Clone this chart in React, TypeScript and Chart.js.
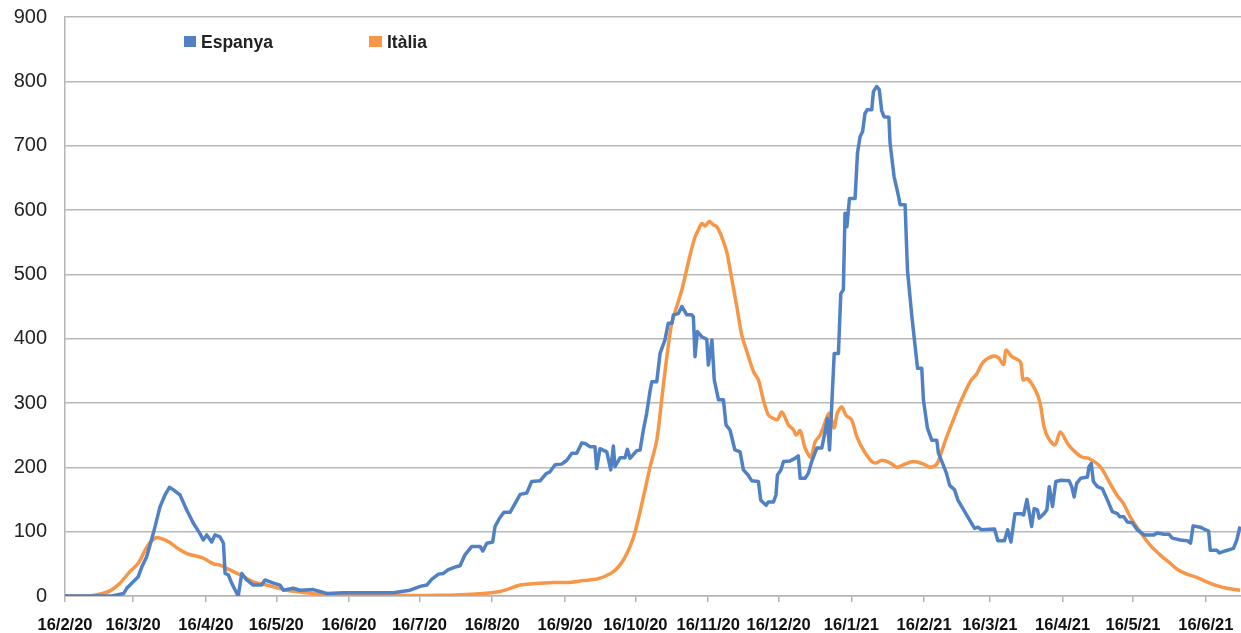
import React, { useEffect, useRef } from "react";
import { Chart, registerables } from "chart.js";

Chart.register(...registerables);

// Day index counted from 16/2/20
const tickDays = [0, 29, 60, 90, 121, 151, 182, 213, 243, 274, 304, 335, 366, 394, 425, 455, 486];
const tickLabels = [
  "16/2/20", "16/3/20", "16/4/20", "16/5/20", "16/6/20", "16/7/20", "16/8/20", "16/9/20",
  "16/10/20", "16/11/20", "16/12/20", "16/1/21", "16/2/21", "16/3/21", "16/4/21", "16/5/21", "16/6/21",
];

const seriesNames = ["Espanya", "Itàlia"];

const spainDays = [
  0, 20, 25, 26.3, 31.2, 32.7, 34.8, 37.6, 40.5, 42.6, 44.5, 46.2, 49, 51.8, 54.7, 57.5, 58.9, 60.4, 62.5, 63.9,
  66, 67.5, 68.2, 69.6, 71, 73.8, 75.3, 77.4, 80.2, 83.8, 85.2, 88.8, 91.6, 93, 97.3, 100, 105.8, 108.6, 111.5, 118.6,
  125.7, 139.9, 147, 151.3, 154.1, 156.2, 159.1, 161.2, 163.3, 166.2, 168.3, 170.4, 173.3, 176.8, 178, 179.7, 182.2, 183.2, 185.3, 187,
  189.6, 191.3, 193.9, 196.7, 198.8, 202.4, 204.9, 206.6, 208.8, 211.6, 213.8, 215.9, 218, 220.2, 221.6, 223.7, 225.8, 226.5, 227.9, 230.8,
  232.5, 233.6, 234.3, 236.5, 238.6, 239.6, 240.7, 243.6, 245, 246.4, 247.8, 249.3, 250, 252.1, 253.5, 255.6, 257, 258.6, 259.2, 261.3,
  262.8, 264.9, 267, 267.7, 268.4, 269.4, 271.3, 273.4, 274.1, 275.6, 276.6, 278.4, 280.5, 281.6, 283.3, 285.4, 287.6, 289, 291, 292.6,
  295.4, 296.4, 298.7, 299.6, 301.8, 302.9, 303.5, 305, 306.1, 308.9, 311, 312.4, 313.2, 315.3, 316.7, 318.1, 320.3, 322.4, 323.8, 324.8,
  325.7, 326.7, 327.7, 329.5, 330.5, 331.6, 332.3, 333.1, 334.2, 336.6, 337.6, 338.7, 339.8, 340.8, 341.8, 343.7, 344.4, 345.8, 346.9, 347.9,
  348.9, 351, 351.5, 353.2, 355, 355.8, 357.9, 358.9, 360.8, 363.2, 365, 365.7, 367.4, 369.3, 371.4, 372.1, 374, 375.5, 376.9, 379,
  380.4, 387.5, 388.9, 390.3, 396, 397.4, 400.2, 401.6, 403, 404.7, 407.2, 408.4, 409.8, 411.8, 412.9, 414.3, 415, 417.1, 418.3, 419.3,
  420.7, 422.1, 424.3, 427.8, 428.9, 429.9, 431, 432.7, 435.6, 436.2, 437.2, 438.1, 439.8, 441.9, 444.1, 446.2, 448.3, 449.4, 451.1, 452.6,
  454.7, 456.8, 459.7, 463.9, 465.3, 468.2, 470.3, 471.7, 475.2, 478.1, 479.5, 480.6, 483.7, 485.8, 487.2, 487.9, 490.7, 491.8, 494.2, 497.8,
  499.2, 500.6,
];
const spainValues = [
  0, 0, 4, 12, 30, 45, 61, 97, 139, 157, 169, 165, 157, 134, 113, 97, 87, 95, 84, 95,
  92, 82, 35, 33, 20, 0, 35, 25, 17, 17, 25, 20, 17, 9, 12, 9, 10, 7, 4, 5,
  5, 5, 9, 15, 17, 26, 34, 35, 41, 45, 47, 64, 77, 77, 70, 82, 84, 108, 122, 130,
  130, 141, 158, 160, 178, 179, 190, 193, 204, 205, 211, 222, 222, 238, 237, 232, 232, 198, 229, 224,
  196, 233, 201, 215, 215, 228, 214, 226, 227, 258, 284, 320, 333, 333, 377, 398, 424, 424, 437, 439,
  450, 437, 437, 434, 372, 411, 403, 399, 359, 398, 336, 305, 305, 266, 258, 227, 224, 196, 188, 179,
  178, 149, 141, 146, 146, 157, 188, 196, 209, 210, 214, 218, 183, 183, 191, 209, 230, 230, 255, 276,
  227, 300, 377, 377, 470, 476, 595, 574, 618, 618, 688, 714, 722, 750, 756, 756, 784, 792, 787, 755,
  745, 744, 704, 652, 623, 608, 608, 507, 434, 354, 354, 305, 261, 242, 242, 222, 205, 191, 172, 165,
  149, 105, 107, 103, 104, 86, 86, 103, 84, 128, 128, 126, 150, 108, 136, 134, 121, 128, 134, 170,
  139, 178, 180, 179, 170, 154, 175, 183, 185, 201, 206, 178, 170, 167, 149, 131, 128, 123, 123, 115,
  114, 103, 95, 95, 98, 96, 96, 90, 87, 86, 82, 109, 107, 103, 101, 71, 71, 67, 70, 74,
  87, 108,
];

const italyDays = [
  0, 10.6, 14.9, 19.2, 23.4, 27.7, 31.2, 34.1, 36.2, 39.1, 41.9, 44.7, 47.6, 51.9, 54.7, 58.9, 63.2, 66, 68.9, 74.6,
  80.2, 85.9, 94.5, 103, 111.5, 121.4, 140, 160, 178.2, 185.3, 188.2, 193.9, 199.5, 208, 213.8, 220.8, 227.2, 233.6, 237.9, 241.5,
  243.6, 246.4, 249.3, 252.1, 254.2, 256.4, 258.5, 260.6, 262.8, 266.3, 268.4, 269.8, 271.3, 272.7, 274.5, 276.2, 277.7, 279.8, 281.9, 284,
  286.2, 288.3, 290.5, 293.3, 295.4, 297.5, 299.7, 301.8, 303.5, 305.4, 308.2, 310.4, 311.5, 313.2, 315.3, 317.7, 319.6, 321.7, 323.1, 325.6,
  327.6, 329, 330.9, 332.7, 335.1, 337.3, 340.1, 343.7, 345.8, 348, 351.5, 354.4, 357.2, 361.5, 365.8, 368.6, 371.4, 373.5, 375.7, 378.5,
  381.3, 385.6, 388.5, 391.3, 395.6, 397.7, 399.9, 400.9, 403.4, 407, 408.2, 410.1, 413.4, 415.4, 417.1, 419, 421.8, 424, 427.5, 430.3,
  433.2, 436, 441, 445.2, 448.1, 450.9, 453.8, 458, 462.3, 466.5, 470.8, 473.6, 477.9, 482.2, 486.4, 490.7, 495, 500.6,
];
const italyValues = [
  0, 0, 3, 8, 20, 38, 51, 71, 83, 91, 88, 83, 75, 66, 63, 59, 50, 48, 43, 33,
  22, 17, 9, 5, 2, 1, 1, 1, 4, 7, 10, 17, 19, 21, 21, 24, 27, 38, 56, 84,
  110, 154, 201, 242, 305, 372, 424, 450, 476, 530, 558, 569, 579, 575, 582, 577, 574, 558, 535, 494,
  450, 406, 380, 349, 336, 305, 281, 276, 274, 286, 266, 258, 250, 257, 230, 216, 240, 250, 263, 284,
  261, 284, 294, 281, 274, 248, 227, 209, 207, 211, 207, 200, 204, 209, 205, 200, 205, 225, 248, 274,
  300, 333, 346, 364, 373, 370, 360, 382, 372, 364, 336, 338, 320, 300, 263, 245, 235, 255, 235, 224,
  216, 214, 201, 175, 157, 144, 123, 100, 79, 64, 51, 42, 34, 29, 22, 16, 12, 9,
];

const BLUE = "#4f81c4";
const ORANGE = "#f79646";
const FONT = "'Liberation Sans', Arial, Helvetica, sans-serif";

export default function App() {
  const canvasRef = useRef<HTMLCanvasElement | null>(null);

  useEffect(() => {
    document.body.style.margin = "0";
    const canvas = canvasRef.current;
    if (!canvas) return;
    const chart = new Chart(canvas, {
      type: "line",
      data: {
        datasets: [
          {
            label: seriesNames[0],
            data: spainDays.map((d, i) => ({ x: d, y: spainValues[i] })),
            borderColor: BLUE,
            backgroundColor: BLUE,
            borderWidth: 3.5,
            pointRadius: 0,
            tension: 0,
            borderJoinStyle: "round",
          },
          {
            label: seriesNames[1],
            data: italyDays.map((d, i) => ({ x: d, y: italyValues[i] })),
            borderColor: ORANGE,
            backgroundColor: ORANGE,
            borderWidth: 3.5,
            pointRadius: 0,
            tension: 0.3,
            borderJoinStyle: "round",
          },
        ],
      },
      options: {
        responsive: false,
        animation: false,
        layout: { padding: { left: 14, right: 0, top: 17, bottom: 0 } },
        plugins: {
          legend: { display: false },
          tooltip: { enabled: false },
        },
        scales: {
          x: {
            type: "linear",
            min: 0,
            max: 501,
            afterBuildTicks: (axis: any) => {
              axis.ticks = tickDays.map((v) => ({ value: v }));
            },
            afterFit: (axis: any) => {
              axis.height = 37;
              axis.paddingLeft = 0;
              axis.paddingRight = 0;
            },
            ticks: {
              autoSkip: false,
              maxRotation: 0,
              minRotation: 0,
              padding: 14,
              color: "#111",
              font: { family: FONT, size: 16.5, weight: "bold", lineHeight: 1.1 },
              callback: (v: any) => {
                const i = tickDays.indexOf(Number(v));
                return i >= 0 ? tickLabels[i] : "";
              },
            },
            grid: {
              drawOnChartArea: false,
              drawTicks: true,
              tickLength: 6,
              color: "#b4b4b4",
              lineWidth: 1.5,
            },
            border: { color: "#b4b4b4", width: 1.5 },
          },
          y: {
            min: 0,
            max: 900,
            afterFit: (axis: any) => {
              axis.width = 51;
              axis.paddingTop = 0;
              axis.paddingBottom = 0;
            },
            ticks: {
              stepSize: 100,
              padding: 18,
              color: "#222",
              font: { family: FONT, size: 20 },
            },
            grid: {
              drawTicks: false,
              color: "#b8b8b8",
              lineWidth: 1.5,
            },
            border: { color: "#b4b4b4", width: 1.5 },
          },
        },
      },
    });
    return () => chart.destroy();
  }, []);

  const legendText: React.CSSProperties = {
    position: "absolute",
    top: 31,
    fontFamily: FONT,
    fontWeight: "bold",
    fontSize: 17.5,
    lineHeight: "22px",
    color: "#222",
    whiteSpace: "nowrap",
  };

  return (
    <div style={{ position: "relative", width: 1241, height: 633, background: "#fff" }}>
      <canvas ref={canvasRef} width={1241} height={633} style={{ display: "block" }} />
      <div style={{ position: "absolute", left: 184, top: 36, width: 12, height: 11, background: BLUE }} />
      <div style={{ ...legendText, left: 201 }}>{seriesNames[0]}</div>
      <div style={{ position: "absolute", left: 369, top: 36, width: 13, height: 11, background: ORANGE }} />
      <div style={{ ...legendText, left: 387 }}>{seriesNames[1]}</div>
    </div>
  );
}
